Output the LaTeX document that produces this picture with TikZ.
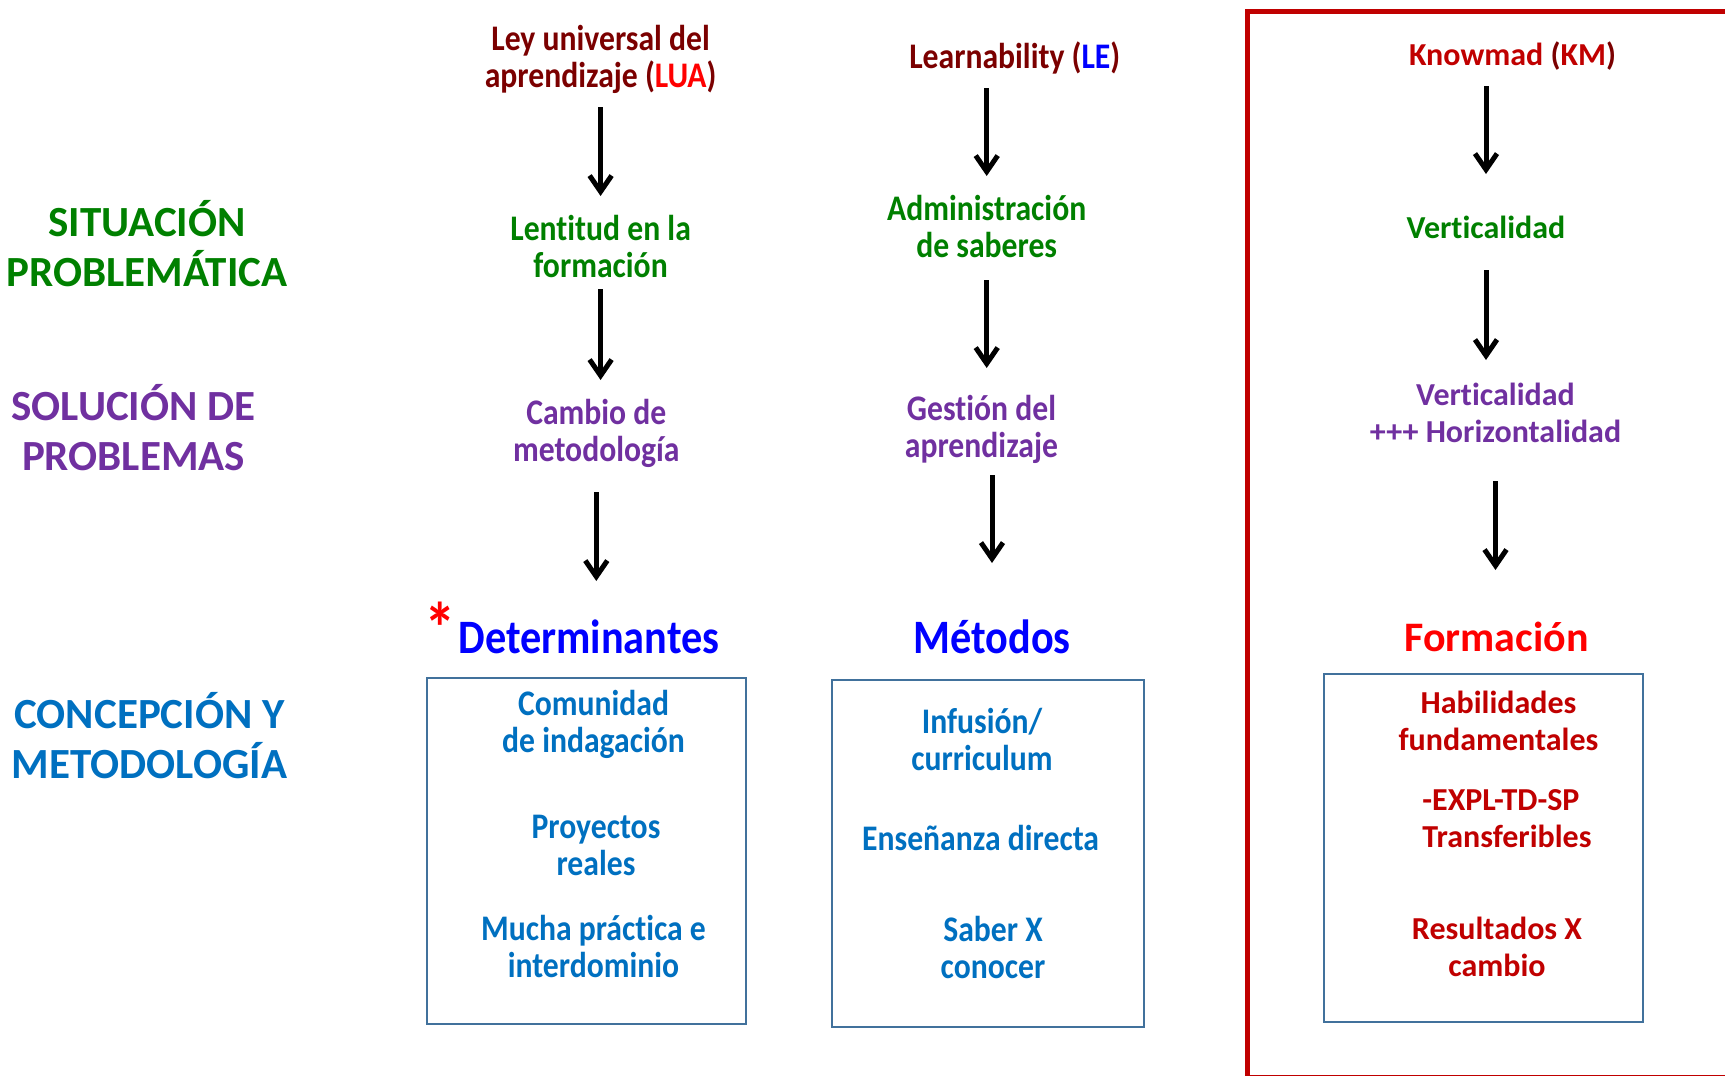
\documentclass[tikz,border=0pt]{standalone}
\usepackage{fontspec}
\setmainfont[Ligatures=NoCommon]{Carlito}
\newfontfamily\cf[FakeStretch=0.88,Ligatures=NoCommon]{Carlito}
\usetikzlibrary{arrows.meta}
\definecolor{maroonT}{HTML}{7B0000}
\definecolor{greenT}{HTML}{008000}
\definecolor{purpleT}{HTML}{7030A0}
\definecolor{blueL}{HTML}{0070C0}
\definecolor{blueH}{HTML}{0000FF}
\definecolor{redD}{HTML}{C00000}
\definecolor{redB}{HTML}{FF0000}
\definecolor{boxC}{HTML}{41719C}
\begin{document}
\begin{tikzpicture}[x=0.5pt,y=-0.5pt,
  txt/.style={inner sep=0pt, align=center},
  cond/.style={txt, font=\cf\bfseries\fontsize{18}{18.5}\selectfont},
  norm/.style={txt, font=\bfseries\fontsize{16}{18.5}\selectfont},
  lab/.style={txt, font=\bfseries\fontsize{21.5}{25}\selectfont},
  headc/.style={txt, font=\cf\bfseries\fontsize{24}{24}\selectfont},
  headn/.style={txt, font=\bfseries\fontsize{21}{21}\selectfont},
  boxst/.style={draw=boxC, line width=1.4pt, inner sep=0pt},
  arr/.style={draw=black, line width=2.5pt, -{Straight Barb[length=8pt,width=11pt]}}
]
\useasboundingbox (0,0) rectangle (1725,1076);

% red frame
\node (frame) [draw=redD, line width=2.6pt, inner sep=0pt, minimum width=250pt, minimum height=533pt, anchor=north west] at (1245,9) {};

% left labels
\node (l1) [lab, text=greenT] at (147,244) {SITUACIÓN\\PROBLEMÁTICA};
\node (l2) [lab, text=purpleT] at (133.5,428) {SOLUCIÓN DE\\PROBLEMAS};
\node (l3) [lab, text=blueL] at (149.5,736) {CONCEPCIÓN Y\\METODOLOGÍA};

% column 1
\node (lua) [cond, text=maroonT] at (600.6,59) {Ley universal del\\aprendizaje (\textcolor{redB}{LUA})};
\node (lent) [cond, text=greenT] at (600.6,246) {Lentitud en la\\formación};
\node (camb) [cond, text=purpleT] at (596.3,433.5) {Cambio de\\metodología};
\node (det) [headc, text=blueH] at (589,637) {\llap{\smash{\textcolor{redB}{\fontsize{36}{36}\selectfont *}}\hspace{1.5pt}}Determinantes};
\node (box1) [boxst, minimum width=159.5pt, minimum height=173pt] at (586.5,851) {};
\node (c1) [cond, text=blueL] at (593.5,724.5) {Comunidad\\de indagación};
\node (c2) [cond, text=blueL] at (596,845) {Proyectos\\reales};
\node (c3) [cond, text=blueL] at (593.5,946) {Mucha práctica e\\interdominio};

% column 2
\node (le) [cond, text=maroonT] at (1014.75,58) {Learnability (\textcolor{blueH}{LE})};
\node (adm) [cond, text=greenT] at (986.7,226.5) {Administración\\de saberes};
\node (ges) [cond, text=purpleT] at (981.5,429.5) {Gestión del\\aprendizaje};
\node (met) [headc, text=blueH] at (992,637) {Métodos};
\node (box2) [boxst, minimum width=156pt, minimum height=173.5pt] at (988,853.5) {};
\node (m1) [cond, text=blueL] at (982,739.5) {Infusión/\\curriculum};
\node (m2) [cond, text=blueL] at (980.6,838) {Enseñanza directa};
\node (m3) [cond, text=blueL] at (993,947) {Saber X\\conocer};

% column 3
\node (km) [norm, text=redD] at (1512.5,56) {Knowmad \textcolor{maroonT}{(}KM\textcolor{maroonT}{)}};
\node (ver) [norm, text=greenT] at (1486,227) {Verticalidad};
\node (vh) [norm, text=purpleT] at (1495.5,412.5) {Verticalidad\\+++ Horizontalidad};
\node (form) [headn, text=redB] at (1496.5,637) {Formación};
\node (box3) [boxst, minimum width=159.5pt, minimum height=174pt] at (1483.5,848) {};
\node (f1) [norm, text=redD] at (1498.5,720.5) {Habilidades\\fundamentales};
\node (f2) [norm, text=redD, align=left, anchor=west] at (1422,818.5) {-EXPL-TD-SP\\Transferibles};
\node (f3) [norm, text=redD] at (1497,947) {Resultados X\\cambio};

% arrows
\draw[arr, shorten <=24pt, shorten >=25pt] (lua.center) -- (lua.center |- lent.center);
\draw[arr, shorten <=21.5pt, shorten >=26.75pt] (lent.center) -- (lent.center |- camb.center);
\draw[arr, shorten <=29.25pt, shorten >=28pt] (camb.center) -- (camb.center |- det.center);
\draw[arr, shorten <=15pt, shorten >=25.25pt] (adm.center |- le.center) -- (adm.center);
\draw[arr, shorten <=26.75pt, shorten >=30.75pt] (adm.center) -- (adm.center |- ges.center);
\draw[arr, shorten <=22.75pt, shorten >=37pt] (met.center |- ges.center) -- (met.center);
\draw[arr, shorten <=15pt, shorten >=26.5pt] (ver.center |- km.center) -- (ver.center);
\draw[arr, shorten <=21.5pt, shorten >=26.25pt] (ver.center) -- (ver.center |- vh.center);
\draw[arr, shorten <=34.25pt, shorten >=33.5pt] (vh.center) -- (vh.center |- form.center);
\end{tikzpicture}
\end{document}
